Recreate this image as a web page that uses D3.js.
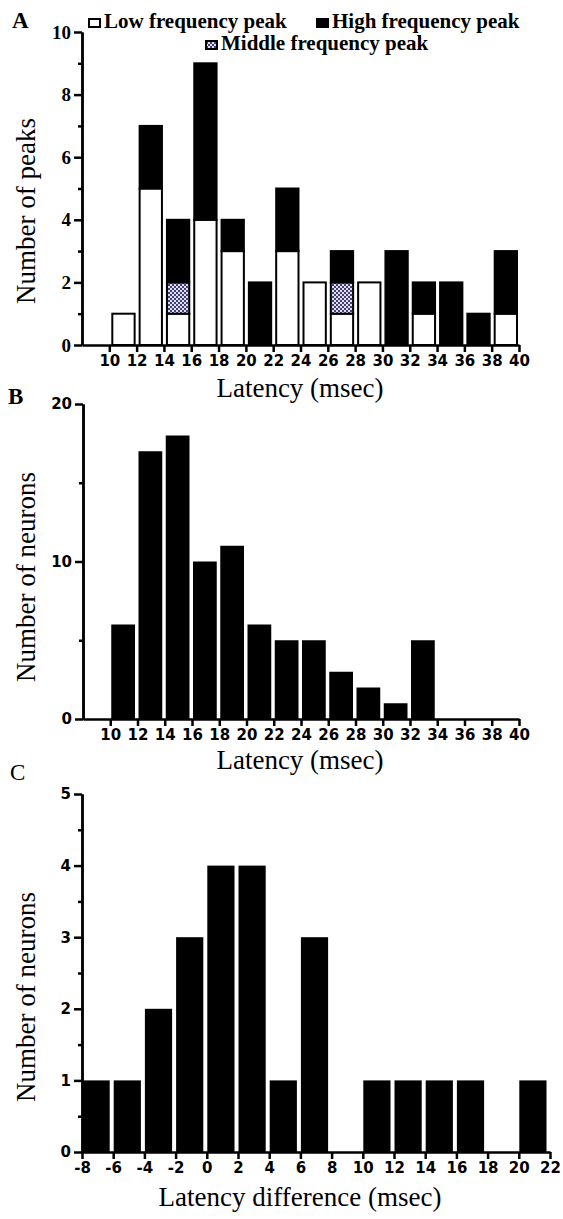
<!DOCTYPE html>
<html>
<head>
<meta charset="utf-8">
<script src="https://cdn.jsdelivr.net/npm/d3@7"></script>
<style>
  body { margin: 0; background: #fff; }
  svg { display: block; }
  .axis path, .axis line { stroke: #000; stroke-width: 2.5; }
  .xlab text { font-family: "DejaVu Sans", sans-serif; font-weight: bold; font-size: 15px; fill: #000; }
  .ylab text { font-family: "DejaVu Sans", sans-serif; font-weight: bold; font-size: 15px; fill: #000; }
  .ylabSerif text { font-family: "Liberation Serif", serif; font-weight: bold; font-size: 19px; fill: #000; }
  .title { font-family: "Liberation Serif", serif; font-size: 27px; fill: #000; }
  .legend { font-family: "Liberation Serif", serif; font-weight: bold; font-size: 21px; fill: #000; }
  .panel { font-family: "Liberation Serif", serif; font-size: 23px; fill: #000; }
</style>
</head>
<body>
<svg id="canvas"></svg>
<script>
/** Chart values */
// panel A and B: latency bins (start of each 2 msec bin)
let latencyBins = [10, 12, 14, 16, 18, 20, 22, 24, 26, 28, 30, 32, 34, 36, 38];
let lowPeaks  = [1, 5, 1, 4, 3, 0, 3, 2, 1, 2, 0, 1, 0, 0, 1];
let midPeaks  = [0, 0, 1, 0, 0, 0, 0, 0, 1, 0, 0, 0, 0, 0, 0];
let highPeaks = [0, 2, 2, 5, 1, 2, 2, 0, 1, 0, 3, 1, 2, 1, 2];
let neuronCounts = [6, 17, 18, 10, 11, 6, 5, 5, 3, 2, 1, 5, 0, 0, 0];

// panel C: latency difference bins
let diffBins = [-8, -6, -4, -2, 0, 2, 4, 6, 8, 10, 12, 14, 16, 18, 20];
let diffCounts = [1, 1, 2, 3, 4, 4, 1, 3, 0, 1, 1, 1, 1, 0, 1];

// tick labels
let latencyTicks = [10, 12, 14, 16, 18, 20, 22, 24, 26, 28, 30, 32, 34, 36, 38, 40];
let diffTicks = [-8, -6, -4, -2, 0, 2, 4, 6, 8, 10, 12, 14, 16, 18, 20, 22];
let peakTicks = [0, 2, 4, 6, 8, 10];
let peakMinor = [1, 3, 5, 7, 9];
let neuronTicks = [0, 10, 20];
let neuronMinor = [5, 15];
let diffYTicks = [0, 1, 2, 3, 4, 5];
let diffYMinor = [0.5, 1.5, 2.5, 3.5, 4.5];

let width = 563;
let height = 1219;

let canvas = d3.select('#canvas').attr('width', width).attr('height', height);

canvas.append('rect').attr('width', width).attr('height', height).attr('fill', '#fff');

/** pattern for middle frequency peak */
let defs = canvas.append('defs');
let pat = defs.append('pattern')
    .attr('id', 'checker')
    .attr('width', 4).attr('height', 4)
    .attr('patternUnits', 'userSpaceOnUse');
pat.append('rect').attr('width', 4).attr('height', 4).attr('fill', '#eadbe8');
pat.append('rect').attr('width', 2).attr('height', 2).attr('fill', '#38437c');
pat.append('rect').attr('x', 2).attr('y', 2).attr('width', 2).attr('height', 2).attr('fill', '#38437c');

/** Scales */
let xA = d3.scaleLinear().domain([8, 40]).range([82, 519]);
let yA = d3.scaleLinear().domain([0, 10]).range([345, 32]);
let xB = d3.scaleLinear().domain([8, 40]).range([83, 519]);
let yB = d3.scaleLinear().domain([0, 20]).range([719, 404]);
let xC = d3.scaleLinear().domain([-8, 22]).range([82, 550]);
let yC = d3.scaleLinear().domain([0, 5]).range([1152, 794]);

// plain hyphen for negatives, as in the figure
const fmt = (d) => String(d);

/** Axis helper */
const drawAxes = (x, y, xTicks, yTicks, yMinor, yClass) => {
    let xAxis = d3.axisBottom(x)
        .tickValues(xTicks)
        .tickSize(7)
        .tickSizeOuter(0)
        .tickPadding(3)
        .tickFormat(fmt);
    let yAxis = d3.axisLeft(y)
        .tickValues(yTicks)
        .tickSize(8)
        .tickSizeOuter(0)
        .tickPadding(3)
        .tickFormat(fmt);
    let yAxisMinor = d3.axisLeft(y)
        .tickValues(yMinor)
        .tickSize(4)
        .tickSizeOuter(0)
        .tickFormat('');

    canvas.append('g')
        .attr('class', 'axis xlab')
        .attr('transform', `translate(0, ${y(0)})`)
        .call(xAxis);
    canvas.append('g')
        .attr('class', 'axis')
        .attr('transform', `translate(${x.range()[0]}, 0)`)
        .call(yAxisMinor);
    canvas.append('g')
        .attr('class', 'axis ' + yClass)
        .attr('transform', `translate(${x.range()[0]}, 0)`)
        .call(yAxis);
};

/** Panel A: stacked peaks */
let stackA = latencyBins.map((b, i) => ({ bin: b, low: lowPeaks[i], mid: midPeaks[i], high: highPeaks[i] }));
let series = d3.stack().keys(['low', 'mid', 'high'])(stackA);
let fills = { low: '#fff', mid: 'url(#checker)', high: '#000' };

series.forEach((s) => {
    canvas.append('g')
        .selectAll('rect')
        .data(s.filter((d) => d[1] > d[0]))
        .enter()
        .append('rect')
        .attr('x', (d) => xA(d.data.bin) + 3)
        .attr('width', (d) => xA(d.data.bin + 2) - xA(d.data.bin) - 5)
        .attr('y', (d) => yA(d[1]))
        .attr('height', (d) => yA(d[0]) - yA(d[1]))
        .attr('fill', fills[s.key])
        .attr('stroke', '#000')
        .attr('stroke-width', 2);
});

drawAxes(xA, yA, latencyTicks, peakTicks, peakMinor, 'ylabSerif');

/** Panel B: neurons */
canvas.append('g')
    .selectAll('rect')
    .data(latencyBins.map((b, i) => ({ bin: b, n: neuronCounts[i] })).filter((d) => d.n > 0))
    .enter()
    .append('rect')
    .attr('x', (d) => xB(d.bin) + 1)
    .attr('width', (d) => xB(d.bin + 2) - xB(d.bin) - 3.5)
    .attr('y', (d) => yB(d.n))
    .attr('height', (d) => yB(0) - yB(d.n))
    .attr('fill', '#000');

drawAxes(xB, yB, latencyTicks, neuronTicks, neuronMinor, 'ylab');

/** Panel C: latency difference */
canvas.append('g')
    .selectAll('rect')
    .data(diffBins.map((b, i) => ({ bin: b, n: diffCounts[i] })).filter((d) => d.n > 0))
    .enter()
    .append('rect')
    .attr('x', (d) => xC(d.bin) + 0.5)
    .attr('width', (d) => xC(d.bin + 2) - xC(d.bin) - 4)
    .attr('y', (d) => yC(d.n))
    .attr('height', (d) => yC(0) - yC(d.n))
    .attr('fill', '#000');

drawAxes(xC, yC, diffTicks, diffYTicks, diffYMinor, 'ylab');

/** Titles */
const yTitle = (text, cx, cy) => {
    canvas.append('text')
        .attr('class', 'title')
        .attr('text-anchor', 'middle')
        .attr('transform', `translate(${cx}, ${cy}) rotate(-90)`)
        .text(text);
};
const xTitle = (text, cx, cy) => {
    canvas.append('text')
        .attr('class', 'title')
        .attr('text-anchor', 'middle')
        .attr('x', cx)
        .attr('y', cy)
        .text(text);
};

yTitle('Number of peaks', 35, 211);
yTitle('Number of neurons', 35, 577);
yTitle('Number of neurons', 35, 997);
xTitle('Latency (msec)', 300, 397);
xTitle('Latency (msec)', 300, 769);
xTitle('Latency difference (msec)', 300, 1206);

/** Panel letters */
canvas.append('text').attr('class', 'panel').attr('x', 12).attr('y', 28).style('font-weight', 'bold').text('A');
canvas.append('text').attr('class', 'panel').attr('x', 8).attr('y', 404).style('font-weight', 'bold').text('B');
canvas.append('text').attr('class', 'panel').attr('x', 10).attr('y', 780).text('C');

/** Legend */
let legendItems = [
    { label: 'Low frequency peak', fill: '#fff', x: 89, y: 28 },
    { label: 'High frequency peak', fill: '#000', x: 317, y: 28 },
    { label: 'Middle frequency peak', fill: 'url(#checker)', x: 206, y: 50 }
];
let legend = canvas.append('g')
    .selectAll('g')
    .data(legendItems)
    .enter()
    .append('g')
    .attr('transform', (d) => `translate(${d.x}, ${d.y})`);
legend.append('rect')
    .attr('x', 0).attr('y', -9)
    .attr('width', 11).attr('height', 8)
    .attr('fill', (d) => d.fill)
    .attr('stroke', '#000')
    .attr('stroke-width', 2);
legend.append('text')
    .attr('class', 'legend')
    .attr('x', 15)
    .text((d) => d.label);
</script>
</body>
</html>
